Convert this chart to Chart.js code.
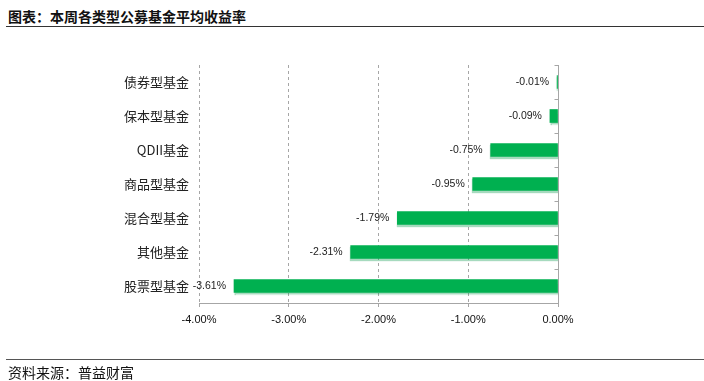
<!DOCTYPE html>
<html>
<head>
<meta charset="utf-8">
<script src="https://cdn.jsdelivr.net/npm/chart.js@4.4.0/dist/chart.umd.min.js"></script>
<style>
  html, body { margin:0; padding:0; background:#fff; }
  body { width:704px; height:381px; position:relative; overflow:hidden; font-family:"Noto Sans CJK SC", sans-serif; }
  #title { position:absolute; left:8px; top:6px; font-size:14px; font-weight:bold; color:#111; line-height:20px; white-space:nowrap; }
  #tline { position:absolute; left:6px; right:0; top:26px; height:0; border-top:1.5px solid #333; }
  #bline { position:absolute; left:6px; right:0; top:359px; height:0; border-top:1px solid #555; }
  #foot { position:absolute; left:8px; top:362px; font-size:14px; color:#111; line-height:20px; white-space:nowrap; }
  canvas { position:absolute; left:0; top:0; }
</style>
</head>
<body>
<div id="title">图表：本周各类型公募基金平均收益率</div>
<div id="tline"></div>
<canvas id="c" width="704" height="381"></canvas>
<div id="bline"></div>
<div id="foot">资料来源：普益财富</div>
<script>
const categories = ["债券型基金", "保本型基金", "QDII基金", "商品型基金", "混合型基金", "其他基金", "股票型基金"];
const returns = [-0.01, -0.09, -0.75, -0.95, -1.79, -2.31, -3.61];
const xTicks = [-4, -3, -2, -1, 0];

const extras = {
  id: 'extras',
  beforeDatasetsDraw(chart) {
    const ctx = chart.ctx;
    const x = chart.scales.x, y = chart.scales.y;
    ctx.save();
    ctx.strokeStyle = '#a6a6a6';
    ctx.lineWidth = 1;
    const x0 = Math.round(x.getPixelForValue(0)) + 0.5;
    ctx.beginPath();
    ctx.moveTo(x0, y.top);
    ctx.lineTo(x0, y.bottom);
    for (let i = 0; i <= categories.length; i++) {
      const py = Math.round(y.getPixelForValue(i - 0.5)) + 0.5;
      ctx.moveTo(x0 - 4, py);
      ctx.lineTo(x0, py);
    }
    ctx.stroke();
    ctx.restore();
  },
  beforeDatasetDraw(chart) {
    const ctx = chart.ctx;
    ctx.save();
    ctx.shadowColor = 'rgba(0,150,70,0.35)';
    ctx.shadowOffsetY = 2;
    ctx.shadowOffsetX = 0;
    ctx.shadowBlur = 1;
  },
  afterDatasetDraw(chart) {
    chart.ctx.restore();
  },
  afterDatasetsDraw(chart) {
    const ctx = chart.ctx;
    const meta = chart.getDatasetMeta(0);
    ctx.save();
    ctx.font = '10.5px "Liberation Sans", Arial, sans-serif';
    ctx.fillStyle = '#222';
    ctx.textAlign = 'right';
    ctx.textBaseline = 'middle';
    meta.data.forEach((bar, i) => {
      const v = returns[i];
      ctx.fillText(v.toFixed(2) + '%', Math.min(bar.x, bar.base) - 8, bar.y);
    });
    ctx.restore();
  }
};

new Chart(document.getElementById('c'), {
  type: 'bar',
  data: {
    labels: categories,
    datasets: [{
      data: returns,
      backgroundColor: '#00b050',
      borderWidth: 0,
      barThickness: 13
    }]
  },
  options: {
    indexAxis: 'y',
    responsive: false,
    animation: false,
    devicePixelRatio: 1,
    layout: { padding: { left: 0, top: 65, right: 146, bottom: 0 } },
    plugins: { legend: { display: false }, tooltip: { enabled: false } },
    scales: {
      x: {
        min: -4, max: 0,
        afterBuildTicks(s) { s.ticks = xTicks.map(v => ({ value: v })); },
        afterFit(s) { s.height = 78; },
        ticks: {
          padding: 6,
          color: '#111',
          font: { family: '"Liberation Sans", Arial, sans-serif', size: 11 },
          callback: v => Number(v).toFixed(2) + '%'
        },
        grid: {
          color: c => (c.tick && c.tick.value === 0) ? 'rgba(0,0,0,0)' : '#a6a6a6',
          tickColor: '#a6a6a6',
          tickLength: 4,
          tickBorderDash: [],
          lineWidth: 1
        },
        border: { display: true, color: '#a6a6a6', dash: [3, 3] }
      },
      y: {
        afterFit(s) { s.width = 199; },
        grid: { display: false, drawTicks: false },
        border: { display: false },
        ticks: {
          padding: 10,
          color: '#222',
          font: { family: '"Noto Sans CJK SC", sans-serif', size: 13 }
        }
      }
    }
  },
  plugins: [extras]
});
</script>
</body>
</html>
